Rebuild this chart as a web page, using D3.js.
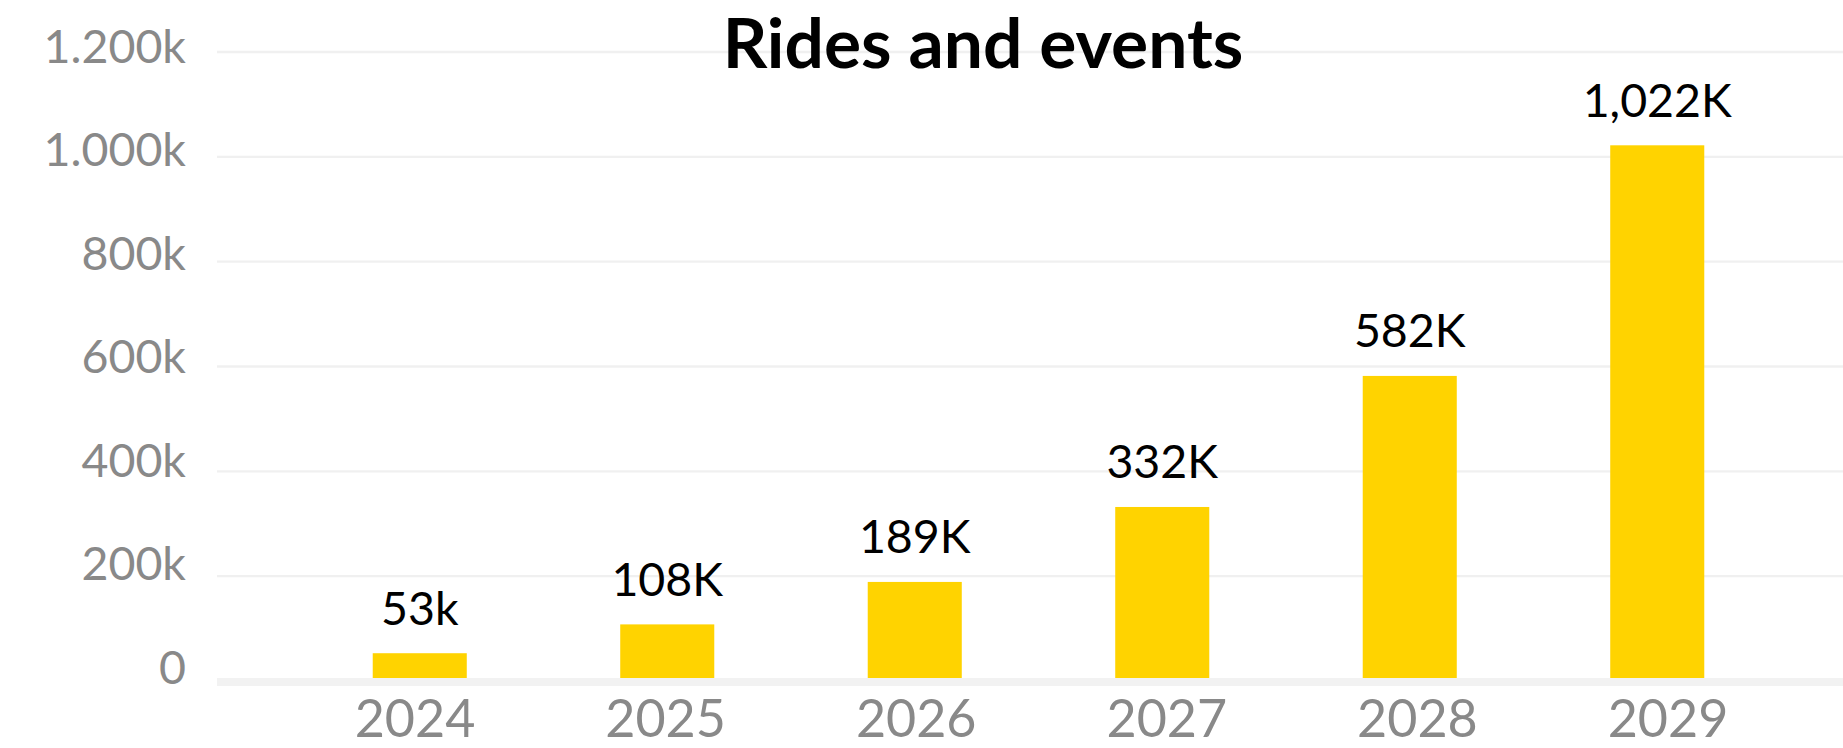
<!DOCTYPE html>
<html>
<head>
<meta charset="utf-8">
<script src="https://cdn.jsdelivr.net/npm/d3@7"></script>
<style>
  html, body { margin: 0; padding: 0; background: #ffffff; }
  svg { display: block; font-family: Lato, "Open Sans", sans-serif; }
</style>
</head>
<body>
<svg id="chart" width="1843" height="748"></svg>
<script>
// Rides and events per year, in thousands
const years = ["2024", "2025", "2026", "2027", "2028", "2029"];
const rides = [53, 108, 189, 332, 582, 1022];
const valueLabels = ["53k", "108K", "189K", "332K", "582K", "1,022K"];
const yTicks = [0, 200, 400, 600, 800, 1000, 1200];
const yTickLabels = ["0", "200k", "400k", "600k", "800k", "1.000k", "1.200k"];

const W = 1843, H = 748;
const svg = d3.select("#chart");

const gridLeft = 217, gridRight = W;

const x = d3.scaleBand()
  .domain(years)
  .range([296, 1781])
  .paddingInner(0.62)
  .paddingOuter(0.31);

// year labels sit on a slightly wider spacing than the bars
const xLabel = d3.scalePoint().domain(years).range([415, 1668]);

const y = d3.scaleLinear().domain([0, 1200]).range([681, 52]);
// tick text is spaced a touch tighter than the gridlines
const yLabel = d3.scaleLinear().domain([0, 1200]).range([667, 46]);

// gridlines
svg.append("g")
  .selectAll("line")
  .data(yTicks.filter(d => d > 0))
  .join("line")
  .attr("x1", gridLeft).attr("x2", gridRight)
  .attr("y1", d => y(d)).attr("y2", d => y(d))
  .attr("stroke", "#f0f0f0")
  .attr("stroke-width", 2.3);

// y tick labels
svg.append("g")
  .selectAll("text")
  .data(yTicks)
  .join("text")
  .attr("x", 186)
  .attr("y", d => yLabel(d))
  .attr("dy", "0.36em")
  .attr("text-anchor", "end")
  .attr("fill", "#898989")
  .attr("font-size", 46.5)
  .text((d, i) => yTickLabels[i]);

// bars
svg.append("g")
  .selectAll("rect")
  .data(rides)
  .join("rect")
  .attr("x", (d, i) => x(years[i]))
  .attr("width", x.bandwidth())
  .attr("y", d => y(d))
  .attr("height", d => y(0) - y(d))
  .attr("fill", "#FFD300");

// baseline band
svg.append("line")
  .attr("x1", gridLeft).attr("x2", gridRight)
  .attr("y1", y(0) + 1).attr("y2", y(0) + 1)
  .attr("stroke", "#f2f2f2")
  .attr("stroke-width", 8);

// value labels
svg.append("g")
  .selectAll("text")
  .data(rides)
  .join("text")
  .attr("x", (d, i) => x(years[i]) + x.bandwidth() / 2)
  .attr("y", d => y(d) - 28.5)
  .attr("text-anchor", "middle")
  .attr("fill", "#000000")
  .attr("font-size", 46.5)
  .text((d, i) => valueLabels[i]);

// year labels
svg.append("g")
  .selectAll("text")
  .data(years)
  .join("text")
  .attr("x", d => xLabel(d))
  .attr("y", 737)
  .attr("text-anchor", "middle")
  .attr("fill", "#898989")
  .attr("font-size", 52)
  .text(d => d);

// title
svg.append("text")
  .attr("x", 983)
  .attr("y", 68)
  .attr("text-anchor", "middle")
  .attr("font-weight", 700)
  .attr("font-size", 69.5)
  .attr("fill", "#000000")
  .text("Rides and events");
</script>
</body>
</html>
